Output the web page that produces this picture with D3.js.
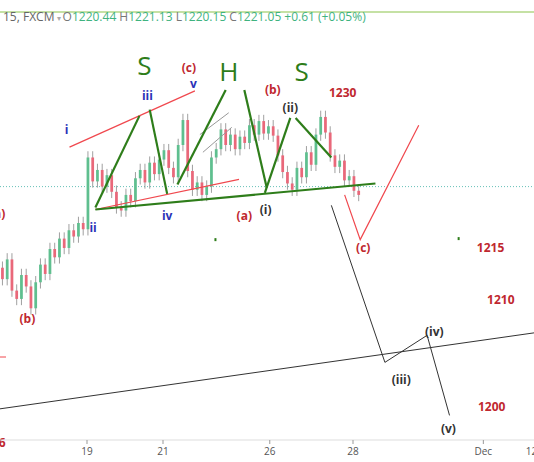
<!DOCTYPE html>
<html><head><meta charset="utf-8">
<script src="https://cdn.jsdelivr.net/npm/d3@7"></script>
<style>body{margin:0;background:#fff;font-family:"Open Sans",sans-serif}</style>
</head><body>
<svg id="chart" width="534" height="462"></svg>
<script>
// closes, one every 1/8 trading day, starting at day -2.35 (day 0 = Nov 19)
const closes = [1213.2,1212.1,1214.0,1211.0,1210.2,1212.5,1211.4,1209.3,1211.8,1213.5,1212.6,1215.0,1214.2,1216.0,1215.1,1216.8,1216.2,1217.5,1216.9,1223.8,
  1221.5,1222.6,1221.0,1222.1,1220.5,1219.0,1218.7,1220.2,1219.6,1221.8,1222.6,1221.4,1223.3,1222.2,1223.6,1224.5,1222.8,1221.9,1225.0,1227.4,
  1222.5,1220.7,1221.4,1220.2,1221.0,1223.8,1224.6,1226.5,1225.0,1226.0,1224.6,1225.8,1225.2,1226.9,1226.0,1227.3,1226.1,1226.8,1225.9,1224.0,
  1222.4,1221.3,1220.7,1222.8,1221.9,1224.3,1223.1,1226.0,1227.7,1226.2,1224.0,1222.9,1223.5,1221.6,1222.0,1220.6,1220.2];
const startDay = -2.35, step = 1/8;
const tickDays = [0, 2, 4.81, 7.0, 10.43, 11.85];
const tickLabels = ["19", "21", "26", "28", "Dec", "12"];

// annotation lines: [day, price] points
const redLines = [
  [[-0.46,1224.8],[2.84,1230.2]],
  [[0.22,1218.8],[4.0,1221.7]],
  [[6.78,1220.2],[7.19,1215.9],[8.73,1226.9]]
];
const greenLines = [
  [[0.22,1219.0],[1.38,1227.8]],
  [[1.65,1228.4],[2.11,1220.3]],
  [[2.38,1221.2],[3.65,1230.3]],
  [[4.14,1230.3],[4.73,1220.9]],
  [[4.68,1220.4],[5.35,1227.6]],
  [[5.49,1227.6],[6.43,1223.8]],
  [[0.22,1218.8],[7.59,1221.3]]
];
const greyLines = [
  [[3.05,1224.3],[3.81,1226.7]],
  [[2.97,1226.0],[3.73,1228.1]]
];
const blackLines = [
  [[6.43,1219.2],[7.84,1204.1],[8.95,1206.7],[9.54,1199.0]],
  [[-2.35,1199.6],[12.08,1207.1]]
];
const labels = [
  ["S",1.51,1231.7,"#2e7d1a",26],["H",3.73,1231.2,"#2e7d1a",26],["S",5.65,1231.2,"#2e7d1a",26],
  ["(c)",2.68,1232.0,"#c0282f",12],["v",2.8,1230.5,"#2a32b8",12],["iii",1.59,1229.3,"#2a32b8",12],
  ["i",-0.54,1226.1,"#2a32b8",12],["ii",0.16,1216.6,"#2a32b8",12],["iv",2.11,1217.8,"#2a32b8",12],
  ["(b)",4.89,1229.9,"#c0282f",12],["1230",6.73,1229.6,"#c0282f",12],["(ii)",5.35,1228.2,"#333",12],
  ["(a)",4.14,1217.8,"#c0282f",12],["(i)",4.7,1218.4,"#333",12],["(c)",7.27,1214.7,"#c0282f",12],
  ["1215",10.62,1214.7,"#c0282f",12],["1210",10.89,1209.7,"#c0282f",12],["(iv)",9.14,1206.6,"#333",12],
  ["(iii)",8.27,1202.0,"#333",12],["1200",10.65,1199.4,"#c0282f",12],["(v)",9.51,1197.3,"#333",12],
  ["(b)",-1.57,1207.9,"#c0282f",12],["a)",-2.3,1218.0,"#c0282f",12],["1196",-2.5,1196.0,"#c0282f",12]
];

const svg = d3.select("#chart");
const x = d3.scaleLinear().domain([0, 2]).range([87, 163]);
const y = d3.scaleLinear().domain([1200, 1230]).range([405, 93]);

// header
svg.append("line").attr("x1",0).attr("x2",534).attr("y1",12).attr("y2",12).attr("stroke","#8bc34a").attr("stroke-width",1);
const hdr = svg.append("text").attr("x",3).attr("y",21).attr("font-size",12);
hdr.append("tspan").attr("fill","#666").text("15, FXCM");
hdr.append("tspan").attr("fill","#aaa").attr("font-size",8).text(" \u25BE   ");
[["O","1220.44"],["H","1221.13"],["L","1220.15"],["C","1221.05"]].forEach(([k,v]) => {
  hdr.append("tspan").attr("fill","#777").text(" " + k);
  hdr.append("tspan").attr("fill","#3fb37f").text(v + " ");
});
hdr.append("tspan").attr("fill","#3fb37f").text(" +0.61 (+0.05%)");

// dotted last-price line
svg.append("line").attr("x1",0).attr("x2",534).attr("y1",y(1221.0)).attr("y2",y(1221.0))
  .attr("stroke","#26a69a").attr("stroke-dasharray","1,2").attr("opacity",0.7);

// candles
const w = Math.max(1.5, x(step) - x(0) - 2);
closes.forEach((c, i) => {
  const o = i ? closes[i-1] : c + 0.5;
  const cx = x(startDay + i*step);
  const up = c >= o;
  const col = up ? "#5fbf8f" : "#e9687a";
  svg.append("line").attr("x1",cx).attr("x2",cx)
    .attr("y1",y(Math.max(o,c)+0.6)).attr("y2",y(Math.min(o,c)-0.6)).attr("stroke","#888").attr("stroke-width",0.8);
  svg.append("rect").attr("x",cx-w/2).attr("width",w)
    .attr("y",y(Math.max(o,c))).attr("height",Math.max(1,Math.abs(y(o)-y(c)))).attr("fill",col);
});

const line = d3.line().x(d => x(d[0])).y(d => y(d[1]));
const draw = (set, color, width) => set.forEach(pts =>
  svg.append("path").attr("d",line(pts)).attr("fill","none").attr("stroke",color).attr("stroke-width",width));
draw(greyLines, "#999", 1);
draw(redLines, "#f0484e", 1.2);
draw(greenLines, "#2e7d1a", 2.2);
draw(blackLines, "#333", 1);

// small marks
[[3.38,1215.9],[9.78,1216.0]].forEach(d =>
  svg.append("rect").attr("x",x(d[0])-1).attr("y",y(d[1])-1.5).attr("width",2).attr("height",3).attr("fill","#2e7d1a"));
svg.append("line").attr("x1",0).attr("x2",6).attr("y1",357).attr("y2",357).attr("stroke","#f0484e");

labels.forEach(([t,dx,p,col,fs]) =>
  svg.append("text").attr("x",x(dx)).attr("y",y(p)).attr("text-anchor","middle")
    .attr("font-size",fs).attr("font-weight",fs > 20 ? "normal" : "bold").attr("fill",col).text(t));

// x axis
svg.append("line").attr("x1",0).attr("x2",534).attr("y1",440).attr("y2",440).attr("stroke","#ddd");
tickDays.forEach((d, i) => {
  svg.append("line").attr("x1",x(d)).attr("x2",x(d)).attr("y1",440).attr("y2",444).attr("stroke","#999");
  svg.append("text").attr("x",x(d)).attr("y",455).attr("text-anchor", i === tickDays.length - 1 ? "end" : "middle")
    .attr("font-size",10).attr("fill","#555").text(tickLabels[i]);
});
</script>
</body></html>
